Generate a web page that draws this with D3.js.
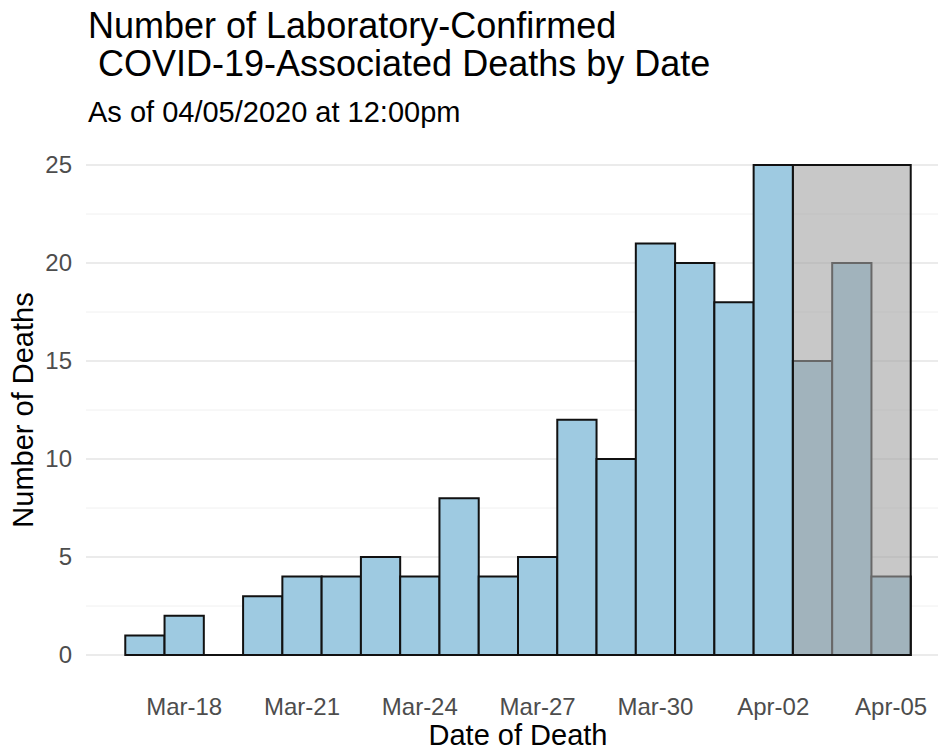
<!DOCTYPE html>
<html>
  <head>
    <meta charset="utf-8" />
    <title>COVID-19 Deaths by Date</title>
    <script src="https://d3js.org/d3.v7.min.js" charset="utf-8"></script>
    <style>
      body { margin: 0; background: #fff; }
      svg text { font-family: "Liberation Sans", Arial, sans-serif; }
    </style>
  </head>
  <body>
    <svg id="canvas" width="938" height="752"></svg>
    <script>
      // data
      var dates = ["2020-03-17", "2020-03-18", "2020-03-19", "2020-03-20", "2020-03-21",
        "2020-03-22", "2020-03-23", "2020-03-24", "2020-03-25", "2020-03-26",
        "2020-03-27", "2020-03-28", "2020-03-29", "2020-03-30", "2020-03-31",
        "2020-04-01", "2020-04-02", "2020-04-03", "2020-04-04", "2020-04-05"];
      var deaths = [1, 2, 0, 3, 4, 4, 5, 4, 8, 4, 5, 12, 10, 21, 20, 18, 25, 15, 20, 4];
      var tickDates = ["2020-03-18", "2020-03-21", "2020-03-24", "2020-03-27",
        "2020-03-30", "2020-04-02", "2020-04-05"];
      var yTicks = [0, 5, 10, 15, 20, 25];
      var yMinor = [2.5, 7.5, 12.5, 17.5, 22.5];
      var pendingRange = ["2020-04-03", "2020-04-05"]; // grey box, reporting lag

      var parse = d3.utcParse("%Y-%m-%d");
      var fmt = d3.utcFormat("%b-%d");
      var halfDay = 12 * 3600 * 1000;

      var canvas = d3.select("#canvas");

      var x = d3.scaleUtc()
        .domain([new Date(parse("2020-03-16") - halfDay), new Date(+parse("2020-04-06") + halfDay)])
        .range([86, 950]);
      var y = d3.scaleLinear().domain([-1.25, 26.25]).range([679.5, 140.5]);

      // grid
      canvas.append("g").selectAll("line").data(yMinor).enter().append("line")
        .attr("x1", 86).attr("x2", 938)
        .attr("y1", d => y(d)).attr("y2", d => y(d))
        .attr("stroke", "#f0f0f0").attr("stroke-width", 1);
      canvas.append("g").selectAll("line").data(yTicks).enter().append("line")
        .attr("x1", 86).attr("x2", 938)
        .attr("y1", d => y(d)).attr("y2", d => y(d))
        .attr("stroke", "#ebebeb").attr("stroke-width", 2);

      // bars (path so a zero bar still draws its outline)
      canvas.append("g").selectAll("path").data(dates).enter().append("path")
        .attr("d", function (d, i) {
          var t = parse(d);
          var x0 = x(new Date(t - halfDay)), x1 = x(new Date(+t + halfDay));
          return "M" + x0 + "," + y(0) + "H" + x1 + "V" + y(deaths[i]) + "H" + x0 + "Z";
        })
        .attr("fill", "#9ecae1")
        .attr("stroke", "#111")
        .attr("stroke-width", 2);

      // grey box over the most recent days
      var p0 = x(new Date(parse(pendingRange[0]) - halfDay));
      var p1 = x(new Date(+parse(pendingRange[1]) + halfDay));
      canvas.append("rect")
        .attr("x", p0).attr("width", p1 - p0)
        .attr("y", y(d3.max(deaths))).attr("height", y(0) - y(d3.max(deaths)))
        .attr("fill", "rgb(164,164,164)").attr("fill-opacity", 0.6)
        .attr("stroke", "#111").attr("stroke-width", 2);

      // axis labels
      canvas.append("g").selectAll("text").data(yTicks).enter().append("text")
        .attr("x", 72).attr("y", d => y(d) + 8)
        .attr("text-anchor", "end")
        .attr("fill", "#4d4d4d").style("font-size", "24px")
        .text(d => d);
      canvas.append("g").selectAll("text").data(tickDates).enter().append("text")
        .attr("x", d => x(parse(d))).attr("y", 715)
        .attr("text-anchor", "middle")
        .attr("fill", "#4d4d4d").style("font-size", "24px")
        .text(d => fmt(parse(d)));

      canvas.append("text")
        .attr("x", 518).attr("y", 745).attr("text-anchor", "middle")
        .style("font-size", "29px").attr("fill", "#000")
        .text("Date of Death");
      canvas.append("text")
        .attr("transform", "translate(33,410) rotate(-90)")
        .attr("text-anchor", "middle")
        .style("font-size", "29px").attr("fill", "#000")
        .text("Number of Deaths");

      // titles
      canvas.append("text").attr("x", 88).attr("y", 38)
        .style("font-size", "36px").style("white-space", "pre")
        .text("Number of Laboratory-Confirmed");
      canvas.append("text").attr("x", 88).attr("y", 76)
        .style("font-size", "36px").style("white-space", "pre")
        .text(" COVID-19-Associated Deaths by Date");
      canvas.append("text").attr("x", 88).attr("y", 122)
        .style("font-size", "29px")
        .text("As of 04/05/2020 at 12:00pm");
    </script>
  </body>
</html>
